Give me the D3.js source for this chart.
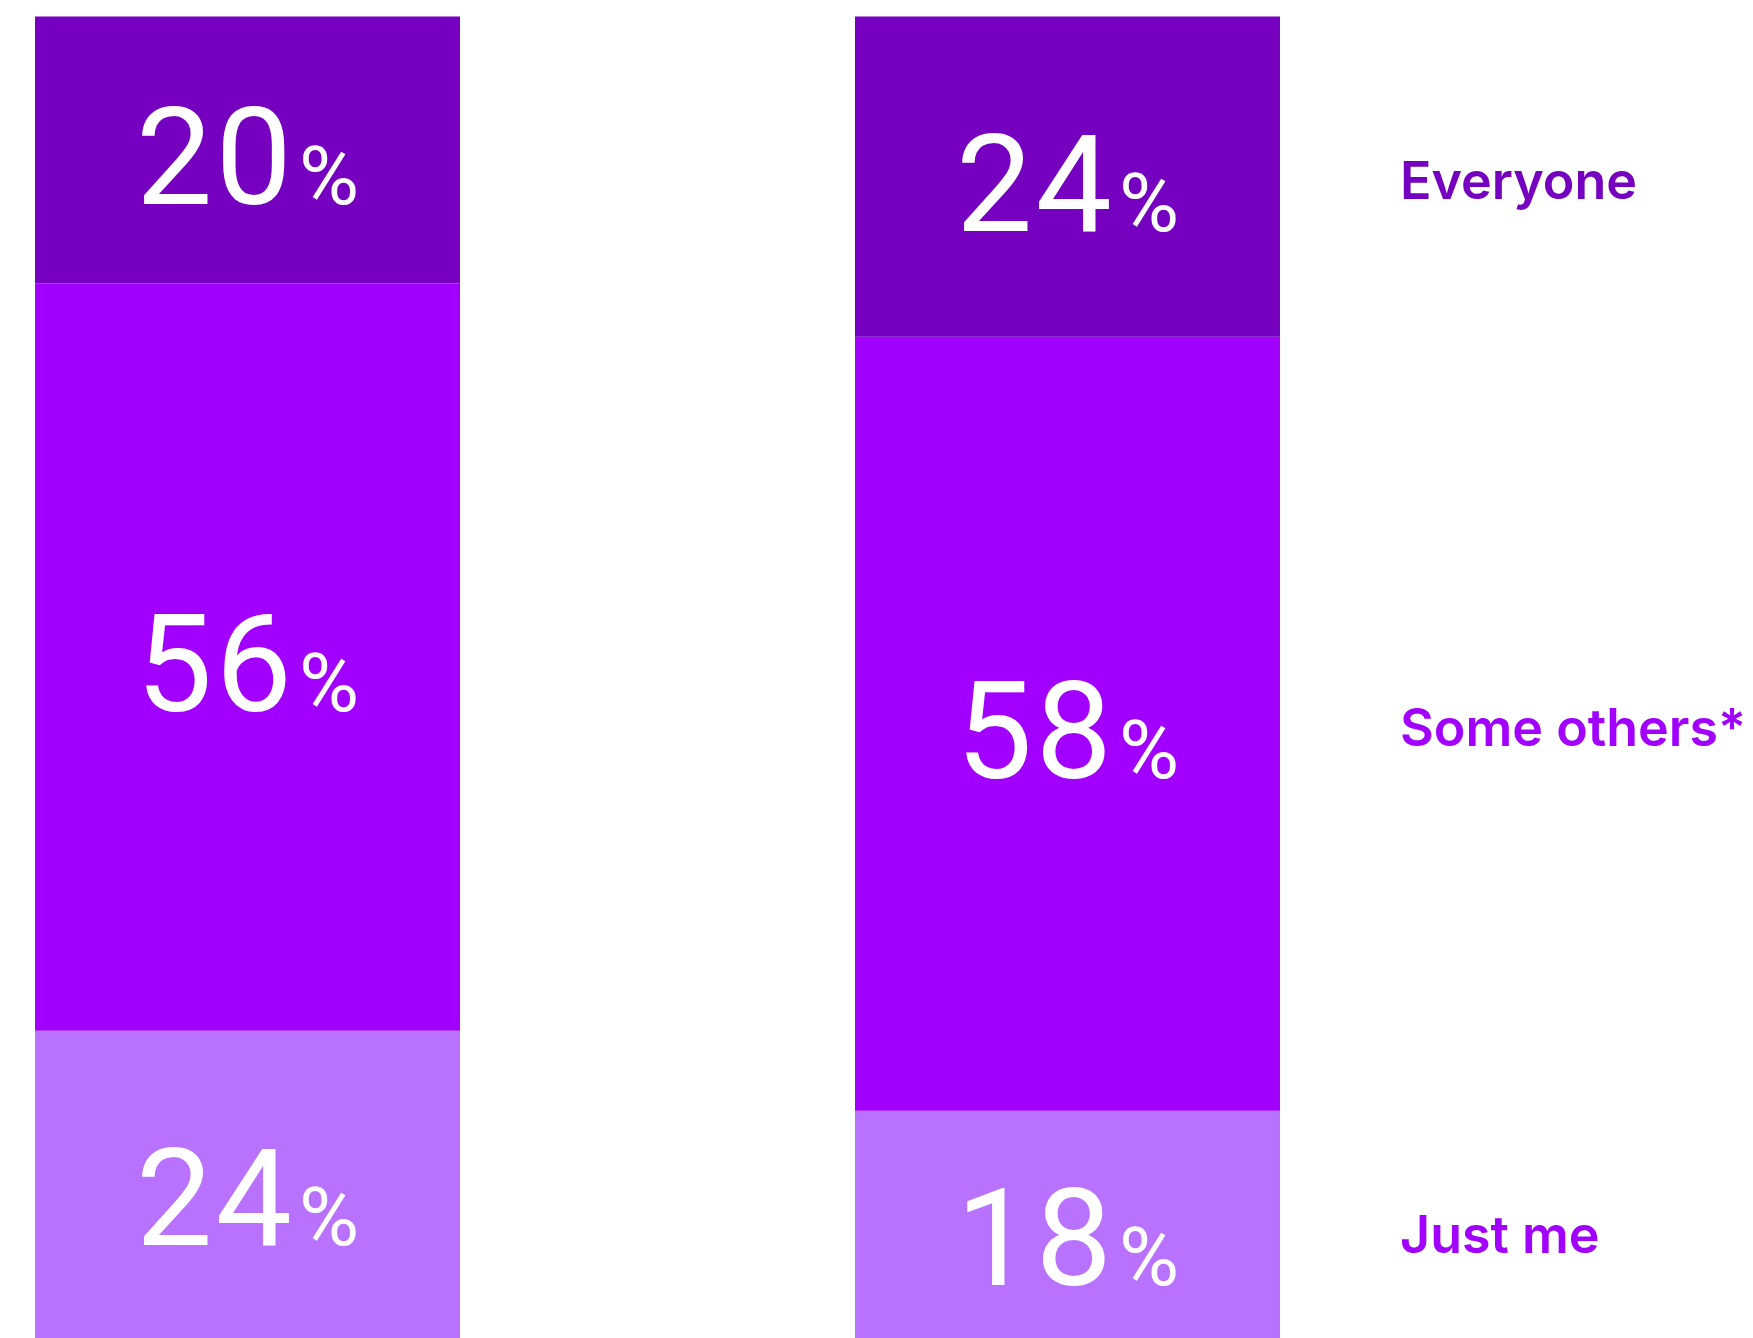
<!DOCTYPE html>
<html>
<head>
<meta charset="utf-8">
<script src="https://cdn.jsdelivr.net/npm/d3@7"></script>
<style>
  html, body { margin: 0; padding: 0; background: #ffffff; overflow: hidden; }
  svg { display: block; }
</style>
</head>
<body>
<svg id="chart" width="1753" height="1338"></svg>
<script>
// ---- data ----
const groups = ["Group A", "Group B"];
const seriesNames = ["Just me", "Some others*", "Everyone"];
const justMe = [24, 18];
const someOthers = [56, 58];
const everyone = [20, 24];
const seriesColors = ["#b872ff", "#a100ff", "#7500c0"];
const legendColors = ["#a100ff", "#a100ff", "#7500c0"];

// ---- layout ----
const svg = d3.select("#chart");

const rows = groups.map((g, i) => ({
  group: g,
  "Just me": justMe[i],
  "Some others*": someOthers[i],
  "Everyone": everyone[i]
}));

const stacked = d3.stack().keys(seriesNames)(rows);

const x = d3.scaleBand()
  .domain(groups)
  .range([35, 1280])
  .paddingInner(395 / 820)
  .paddingOuter(0);

const y = d3.scaleLinear()
  .domain([0, 100])
  .range([1351, 16.5]);

const color = d3.scaleOrdinal().domain(seriesNames).range(seriesColors);

// bars
const layer = svg.append("g").selectAll("g.layer")
  .data(stacked)
  .join("g")
  .attr("class", "layer")
  .attr("fill", d => color(d.key));

layer.selectAll("rect")
  .data(d => d.map(v => ({ key: d.key, v })))
  .join("rect")
  .attr("x", d => x(d.v.data.group))
  .attr("width", x.bandwidth())
  .attr("y", d => y(d.v[1]))
  .attr("height", d => y(d.v[0]) - y(d.v[1]));

// value labels
const labels = svg.append("g").selectAll("g.lab")
  .data(stacked)
  .join("g")
  .attr("class", "lab");

const txt = labels.selectAll("text")
  .data(d => d.map(v => ({ key: d.key, v })))
  .join("text")
  .attr("x", d => x(d.v.data.group) + x.bandwidth() / 2)
  .attr("y", d => (y(d.v[0]) + y(d.v[1])) / 2 + 54)
  .attr("text-anchor", "middle")
  .attr("fill", "#ffffff")
  .style("font-family", "Roboto, 'Liberation Sans', sans-serif")
  .style("font-weight", 400);

txt.append("tspan")
  .style("font-size", "136px")
  .style("letter-spacing", "3px")
  .text(d => d.v[1] - d.v[0]);
txt.append("tspan")
  .attr("dx", 4)
  .style("font-size", "82px")
  .text("%");

// legend labels aligned with right bar segments
const lastIdx = groups.length - 1;
svg.append("g").selectAll("text")
  .data(stacked)
  .join("text")
  .attr("x", 1400)
  .attr("y", d => (y(d[lastIdx][0]) + y(d[lastIdx][1])) / 2 + 22)
  .attr("fill", (d, i) => legendColors[i])
  .style("font-family", "Inter, 'Noto Sans', sans-serif")
  .style("font-weight", 600)
  .style("font-size", "52px")
  .text(d => d.key);
</script>
</body>
</html>
